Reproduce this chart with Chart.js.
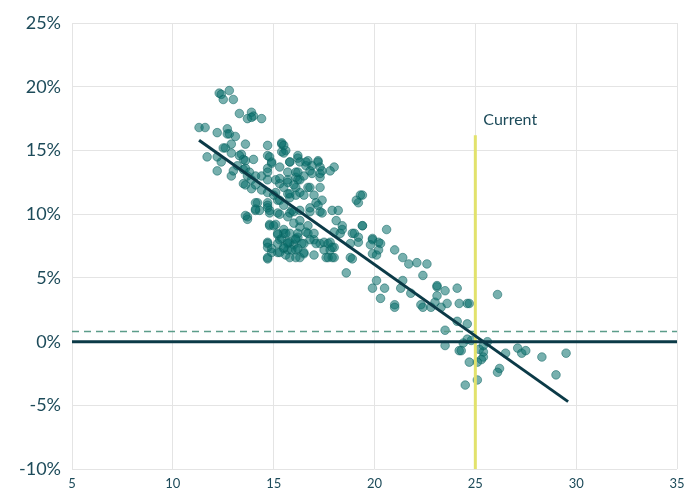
<!DOCTYPE html>
<html>
<head>
<meta charset="utf-8">
<script src="https://cdn.jsdelivr.net/npm/chart.js@4.4.1/dist/chart.umd.min.js"></script>
<style>
  html, body { margin: 0; padding: 0; background: #ffffff; }
  #wrap { width: 700px; height: 491px; position: relative; }
</style>
</head>
<body>
<div id="wrap"><canvas id="chart" width="700" height="491"></canvas></div>
<script>
// Starting valuation (x) and subsequent annualised return in % (y), one entry per observation
const valuation = [
  12.3,12.4,12.8,12.5,13.0, 13.3,13.9,14.0,13.7,14.4,13.9, 11.3,11.6,
  12.2,12.7,12.7,12.8,13.6,14.7,15.4,15.4,15.6,13.1,12.9,12.5,11.7,12.2,12.4,12.2,12.9,13.0,
  13.4,13.5,14.0,14.7,14.9,14.7,15.3,15.8,16.2,15.7,16.1,16.2,13.5,13.7,13.9,14.4,14.7,15.1,15.3,15.7,
  12.6,12.9,13.3,13.6,13.2,13.6,13.8,14.1,14.8,14.9,14.7,13.5,14.1,14.4,14.7,14.2,14.7,15.1,15.2,
  13.6,13.9,14.1,14.1,14.3,14.7,14.8,15.2,15.3,13.7,13.7,14.8,15.1,14.7,14.7,14.9,14.7,15.2,15.3,15.5,
  15.2,15.7,15.8,16.0,15.8,16.1,15.5,15.7,16.1,15.7,15.0,15.3,15.8,16.1,
  15.4,15.5,15.5,16.2,15.8,16.1,16.7,16.6,16.9,17.2,16.8,16.9,17.3,17.4,17.3,16.5,16.3,16.7,16.0,16.3,
  16.8,17.3,18.0,17.8,15.8,16.5,17.0,17.4,17.9,18.2,19.4,19.2,16.8,17.3,15.9,16.3,
  16.3,16.6,17.2,17.3,16.2,15.3,17.1,19.1,
  15.5,15.8,16.8,17.2,17.4,18.1,18.4,18.9,19.4,19.2,19.9,20.2,18.8,18.6,18.0,18.3,17.8,18.0,17.7,17.9,
  17.3,17.5,17.0,16.7,16.3,16.0,16.2,16.5,16.1,15.7,15.6,16.5,17.0,16.3,
  15.7,16.0,16.3,16.7,15.5,15.8,16.2,16.6,17.0,15.4,15.7,16.1,16.4,16.8,17.1,17.5,17.7,15.5,15.9,16.2,
  16.5,17.8,17.9,16.1,17.6,18.0,18.4,19.0,18.8,19.2,18.9,
  13.6,14.1,14.7,14.8,14.8,15.0,14.7,14.9,15.2,15.6,15.2,15.5,15.3,14.7,
  19.3,19.4,19.9,20.3,19.8,20.2,19.9,20.1,20.6,21.0,21.4,21.7,22.1,22.6,22.4,20.1,19.9,20.5,20.3,21.4,
  21.3,21.8,21.0,21.0,22.3,22.4,22.8,23.0,23.1,23.1,23.5,23.6,23.3,24.1,24.2,24.6,24.7,
  23.1,26.1,24.1,24.6,23.5,24.6,24.4,23.5,24.2,24.3,25.2,25.4,25.6,25.4,25.3,24.7,25.1,26.5,27.1,27.3,
  27.5,28.3,29.5,26.2,26.1,29.0,25.1,24.5,24.8,25.4
];
const returns = [
  19.5,19.4,19.7,19.0,19.0, 17.9,18.0,17.7,17.5,17.5,17.6, 16.8,16.8,
  16.4,16.7,16.3,16.3,15.5,15.4,15.5,14.9,15.0,16.1,15.5,15.2,14.5,14.5,14.1,13.4,13.0,13.4,
  14.7,14.3,14.3,14.6,14.1,13.6,13.7,14.1,14.4,13.3,12.9,12.7,13.5,13.0,12.7,13.0,12.7,12.7,12.4,12.7,
  15.2,14.8,14.6,14.2,13.8,13.6,13.3,13.0,14.5,14.0,13.3,12.4,12.3,11.9,11.7,10.9,10.9,11.7,11.1,
  12.3,12.0,10.9,10.3,10.3,10.7,10.3,10.1,10.0,9.8,9.6,9.2,9.2,7.8,7.4,7.3,6.5,8.4,8.0,8.5,
  7.0,7.2,6.6,7.6,7.8,8.1,12.1,11.6,12.1,12.5,11.5,11.1,11.3,11.5,
  15.6,15.4,14.8,14.6,14.1,13.3,14.2,13.8,13.8,14.2,13.4,13.2,13.7,13.4,12.9,13.0,12.7,12.1,12.3,11.7,
  12.1,12.1,13.7,13.4,11.6,11.5,11.5,11.1,10.3,10.3,11.5,10.9,10.2,10.2,10.3,10.3,
  14.1,14.1,14.1,13.2,13.3,12.8,10.9,11.1,
  10.7,10.1,10.5,10.7,10.1,9.5,9.1,8.5,9.1,8.2,8.1,7.8,6.6,5.4,8.6,8.5,7.8,7.4,6.6,6.6,
  7.7,7.2,8.0,8.5,9.0,9.3,8.2,7.7,7.2,7.7,6.8,6.9,6.8,6.6,
  9.8,10.2,9.5,9.1,8.8,8.5,8.5,8.6,8.5,8.1,7.8,8.0,7.7,8.0,7.7,7.8,7.7,7.3,7.2,7.3,
  7.0,7.2,7.4,6.6,6.6,6.6,8.8,8.5,7.7,7.8,6.5,
  9.9,10.4,10.5,10.1,9.1,9.1,7.7,7.0,8.5,8.5,7.7,7.4,7.0,6.6,
  11.5,9.1,8.0,7.7,7.6,7.2,6.9,6.8,8.8,7.2,6.6,6.1,6.2,6.1,5.2,4.8,4.2,4.2,3.4,4.8,
  4.2,3.8,2.9,2.7,2.9,2.7,2.7,3.1,3.6,4.3,4.0,3.0,2.7,4.2,3.0,3.0,3.0,
  4.4,3.7,1.6,1.4,0.9,0.2,-0.1,-0.3,-0.7,-0.7,-0.6,-0.8,0.0,-1.2,-1.4,-1.6,-1.6,-0.9,-0.5,-0.9,
  -0.7,-1.2,-0.9,-2.1,-2.4,-2.6,-3.0,-3.4,0.1,-0.3
];

// Fitted trend endpoints
const trendX = [11.3, 29.6];
const trendY = [15.8, -4.7];

// Current valuation marker and reference levels
const currentValuation = 25;
const currentTop = 16.2;
const averageReturn = 0.8;
const xTicks = [5, 10, 15, 20, 25, 30, 35];
const yTicks = [-10, -5, 0, 5, 10, 15, 20, 25];

const ink = '#1d4b5a';
const dark = '#0b3a47';

const scatterPoints = valuation.map((v, i) => ({ x: v, y: returns[i] }));
const trendPoints = trendX.map((v, i) => ({ x: v, y: trendY[i] }));

const currentLabel = {
  id: 'currentLabel',
  afterDatasetsDraw(chart) {
    const { ctx, scales } = chart;
    const px = scales.x.getPixelForValue(currentValuation);
    const py = scales.y.getPixelForValue(currentTop);
    ctx.save();
    ctx.font = '16px Lato';
    ctx.fillStyle = ink;
    ctx.textAlign = 'left';
    ctx.textBaseline = 'alphabetic';
    ctx.fillText('Current', px + 8, py - 10);
    ctx.restore();
  }
};

new Chart(document.getElementById('chart'), {
  type: 'scatter',
  data: {
    datasets: [
      {
        type: 'line',
        label: 'Trend',
        data: trendPoints,
        borderColor: dark,
        borderWidth: 3,
        pointRadius: 0,
        order: 1
      },
      {
        type: 'line',
        label: 'Zero',
        data: [{ x: xTicks[0], y: 0 }, { x: xTicks[xTicks.length - 1], y: 0 }],
        borderColor: dark,
        borderWidth: 3,
        pointRadius: 0,
        order: 2
      },
      {
        type: 'line',
        label: 'Current',
        data: [{ x: currentValuation, y: yTicks[0] }, { x: currentValuation, y: currentTop }],
        borderColor: '#e2e26c',
        borderWidth: 3,
        pointRadius: 0,
        order: 3
      },
      {
        type: 'line',
        label: 'Average',
        data: [{ x: xTicks[0], y: averageReturn }, { x: xTicks[xTicks.length - 1], y: averageReturn }],
        borderColor: '#5c9d8a',
        borderWidth: 1.5,
        borderDash: [7, 5],
        pointRadius: 0,
        order: 4
      },
      {
        label: 'Observations',
        data: scatterPoints,
        backgroundColor: 'rgba(7,112,108,0.55)',
        borderColor: 'rgba(7,96,94,0.5)',
        borderWidth: 1,
        pointRadius: 4.3,
        order: 10
      }
    ]
  },
  options: {
    responsive: false,
    animation: false,
    layout: { padding: { top: 23, right: 23, left: 0, bottom: 0 } },
    plugins: { legend: { display: false }, tooltip: { enabled: false } },
    scales: {
      x: {
        type: 'linear',
        min: 5,
        max: 35,
        afterBuildTicks(scale) { scale.ticks = xTicks.map(v => ({ value: v })); },
        afterFit(scale) { scale.height = 20; },
        grid: { color: '#e4e4e4', lineWidth: 1, drawTicks: false },
        border: { display: false },
        ticks: { color: ink, font: { family: 'Lato', size: 13 }, padding: 7, maxRotation: 0 }
      },
      y: {
        min: -10,
        max: 25,
        afterBuildTicks(scale) { scale.ticks = yTicks.map(v => ({ value: v })); },
        afterFit(scale) { scale.width = 72; },
        grid: { color: '#e4e4e4', lineWidth: 1, drawTicks: false },
        border: { display: false },
        ticks: {
          color: ink,
          font: { family: 'Lato', size: 18 },
          padding: 11,
          callback: v => v + '%'
        }
      }
    }
  },
  plugins: [currentLabel]
});
</script>
</body>
</html>
